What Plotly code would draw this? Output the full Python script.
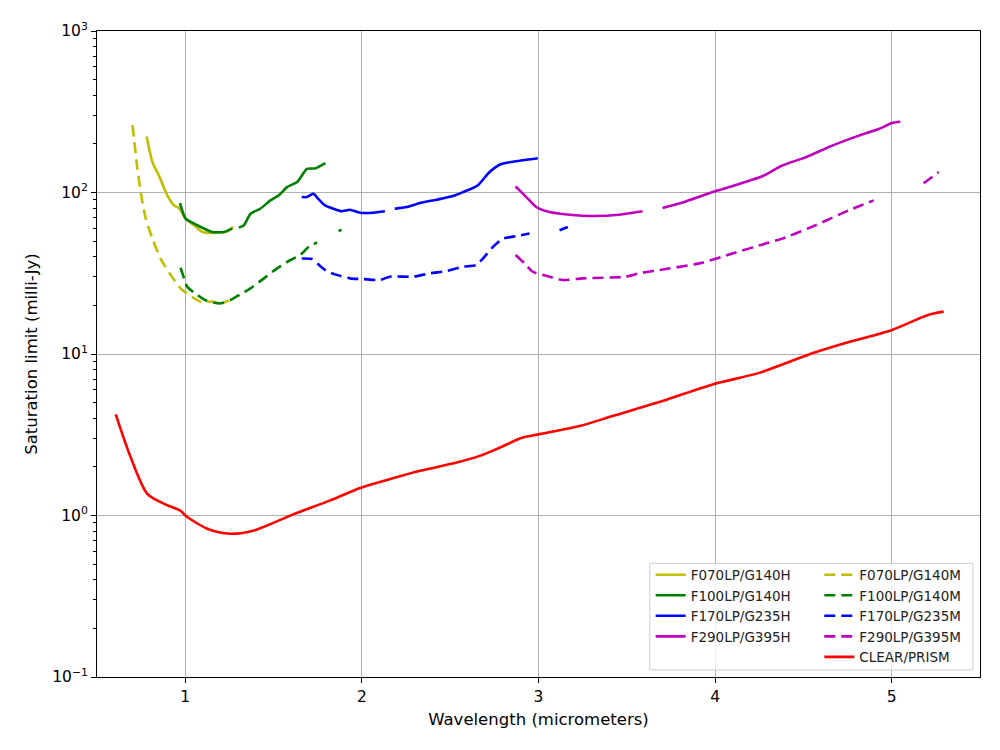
import plotly.graph_objects as go

# wavelength (micrometers) and saturation limit (milli-Jy)
# None marks a gap in the curve
f070_h_x = [0.781, 0.814, 0.851, 0.898, 0.936, 0.964, 1.002, 1.049, 1.096, 1.143, 1.199, 1.237, 1.271]
f070_h_y = [222, 154, 127, 96, 83.3, 80.2, 68.9, 62.7, 57.0, 56.2, 56.5, 57.6, 61.2]

f070_m_x = [0.701, 0.729, 0.747, 0.776, 0.814, 0.860, 0.917, 0.973, 1.021, 1.086, 1.153, 1.199, 1.247]
f070_m_y = [261, 140, 101, 68.9, 51.8, 39.0, 30.9, 25.5, 23.2, 21.1, 21.1, 20.6, 21.4]

f100_h_x = [0.970, 1.002, 1.068, 1.153, 1.219, 1.266, 1.285, 1.303, 1.332, 1.369, 1.425, 1.482,
            1.529, 1.576, 1.633, 1.689, 1.736, 1.793]
f100_h_y = [86.0, 68.9, 62.7, 57.0, 57.0, 59.8, None, 60.6, 62.7, 73.9, 79.4, 89.4,
            96.0, 108, 116, 140, 141, 152]

f100_m_x = [0.973, 0.993, 1.011, 1.068, 1.124, 1.199, 1.256, 1.312, 1.369, 1.445, 1.520, 1.595,
            1.651, 1.699, 1.746, 1.80, 1.868, 1.885]
f100_m_y = [34.2, 29.4, 26.1, 23.2, 21.3, 20.6, 21.6, 23.4, 25.5, 29.4, 33.9, 38.2,
            41.0, 46.1, 49.0, None, 57.6, 58.8]

f170_h_x = [1.659, 1.688, 1.725, 1.753, 1.791, 1.838, 1.885, 1.932, 1.989, 2.064, 2.130, 2.16,
            2.186, 2.253, 2.328, 2.422, 2.516, 2.572, 2.657, 2.723, 2.789, 2.855, 2.996]
f170_h_y = [93.7, 93.7, 98.2, 91.4, 83.3, 79.4, 76.5, 78.2, 75.0, 75.0, 76.5, None,
            79.4, 81.3, 86.0, 90.2, 95.0, 100.5, 111, 134, 150, 155, 163]

f170_m_x = [1.659, 1.716, 1.753, 1.801, 1.857, 1.932, 2.007, 2.102, 2.158, 2.290, 2.384, 2.479,
            2.572, 2.648, 2.685, 2.742, 2.798, 2.874, 2.949, 3.03, 3.119, 3.166]
f170_m_y = [39.0, 38.7, 35.9, 32.6, 30.9, 29.4, 29.1, 28.7, 30.1, 30.1, 31.6, 32.6,
            34.7, 35.6, 39.0, 46.1, 51.8, 53.7, 55.7, None, 58.4, 61.2]

f290_h_x = [2.870, 2.893, 2.931, 2.987, 3.062, 3.175, 3.307, 3.458, 3.589, 3.65, 3.702, 3.834,
            4.004, 4.136, 4.267, 4.380, 4.512, 4.663, 4.814, 4.927, 5.002, 5.049]
f290_h_y = [109, 103, 93.7, 81.3, 75.7, 72.9, 71.6, 72.9, 76.5, None, 80.2, 88.1,
            102, 113, 126, 147, 165, 195, 225, 247, 269, 274]

f290_m_x = [2.870, 2.921, 2.968, 3.044, 3.137, 3.250, 3.495, 3.571, 3.684, 3.910, 4.098, 4.286,
            4.380, 4.569, 4.757, 4.898, 5.05, 5.181, 5.266]
f290_m_y = [41.0, 36.4, 32.3, 30.5, 28.7, 29.4, 30.1, 31.6, 33.1, 36.4, 41.9, 48.3,
            51.8, 62.7, 77.6, 89.4, None, 114, 134]

prism_x = [0.606, 0.691, 0.785, 0.880, 0.973, 1.000, 1.124, 1.256, 1.388, 1.614, 1.821, 1.990,
           2.160, 2.329, 2.537, 2.667, 2.763, 2.911, 3.006, 3.232, 3.420, 3.702, 3.985, 4.249,
           4.550, 4.738, 5.002, 5.209, 5.294]
prism_y = [4.23, 2.29, 1.36, 1.18, 1.07, 1.00, 0.828, 0.771, 0.808, 1.02, 1.24, 1.48,
           1.68, 1.89, 2.13, 2.34, 2.58, 3.04, 3.19, 3.58, 4.13, 5.11, 6.48, 7.64,
           10.1, 11.7, 14.1, 17.5, 18.3]

x_ticks = [1, 2, 3, 4, 5]
y_ticks = [0.1, 1, 10, 100, 1000]
y_labels = ['10<sup>\u22121</sup>', '10<sup>0</sup>', '10<sup>1</sup>', '10<sup>2</sup>', '10<sup>3</sup>']
y_minor = [m * d for d in [0.1, 1, 10, 100] for m in range(2, 10)]

fig = go.Figure()

lw = 2.6
dash = '11px,6px'
col_h = [
    ('F070LP/G140H', f070_h_x, f070_h_y, '#bfbf00'),
    ('F100LP/G140H', f100_h_x, f100_h_y, '#008000'),
    ('F170LP/G235H', f170_h_x, f170_h_y, '#0000ff'),
    ('F290LP/G395H', f290_h_x, f290_h_y, '#bf00bf'),
]
col_m = [
    ('F070LP/G140M', f070_m_x, f070_m_y, '#bfbf00'),
    ('F100LP/G140M', f100_m_x, f100_m_y, '#008000'),
    ('F170LP/G235M', f170_m_x, f170_m_y, '#0000ff'),
    ('F290LP/G395M', f290_m_x, f290_m_y, '#bf00bf'),
]

for name, x, y, c in col_h:
    fig.add_trace(go.Scatter(x=x, y=y, mode='lines', name=name, legend='legend',
                             line=dict(color=c, width=lw, shape='spline', smoothing=0.6),
                             connectgaps=False))
for name, x, y, c in col_m:
    fig.add_trace(go.Scatter(x=x, y=y, mode='lines', name=name, legend='legend2',
                             line=dict(color=c, width=lw, dash=dash, shape='spline', smoothing=0.6),
                             connectgaps=False))
fig.add_trace(go.Scatter(x=prism_x, y=prism_y, mode='lines', name='CLEAR/PRISM', legend='legend2',
                         line=dict(color='#ff0000', width=lw, shape='spline', smoothing=0.8)))

font = 'DejaVu Sans, Arial, sans-serif'
leg_common = dict(bgcolor='rgba(0,0,0,0)', borderwidth=0, font=dict(size=13.5, color='#222'),
                  yanchor='top', xanchor='left', itemwidth=30, tracegroupgap=0)

# body of the page is offset by 8px, margins account for it
fig.update_layout(
    width=1000, height=750,
    margin=dict(l=89, r=28, t=20, b=81),
    plot_bgcolor='white', paper_bgcolor='white',
    font=dict(family=font, size=15, color='black'),
    legend=dict(x=0.627, y=0.182, **leg_common),
    legend2=dict(x=0.818, y=0.182, **leg_common),
    shapes=[dict(type='rect', xref='paper', yref='paper', x0=0.626, x1=0.992, y0=0.011, y1=0.176,
                 line=dict(color='#cccccc', width=1), fillcolor='rgba(255,255,255,0.8)', layer='above')],
)

fig.update_xaxes(range=[0.5, 5.5], tickvals=x_ticks, ticks='outside', ticklen=5, tickcolor='black',
                 showgrid=True, gridcolor='#b0b0b0', gridwidth=1, showline=True, linecolor='black',
                 linewidth=1, mirror=True, zeroline=False, tickfont=dict(size=15.5),
                 title=dict(text='Wavelength (micrometers)', font=dict(size=16.5), standoff=8))
fig.update_yaxes(type='log', range=[-1, 3], tickvals=y_ticks, ticktext=y_labels, ticks='outside',
                 ticklen=5, tickcolor='black', showgrid=True, gridcolor='#b0b0b0', gridwidth=1,
                 showline=True, linecolor='black', linewidth=1, mirror=True, zeroline=False,
                 tickfont=dict(size=15.5),
                 minor=dict(tickvals=y_minor, ticks='outside', ticklen=3, tickcolor='black', showgrid=False),
                 title=dict(text='Saturation limit (milli-Jy)', font=dict(size=16.5), standoff=10))

fig.write_html("out.html")
